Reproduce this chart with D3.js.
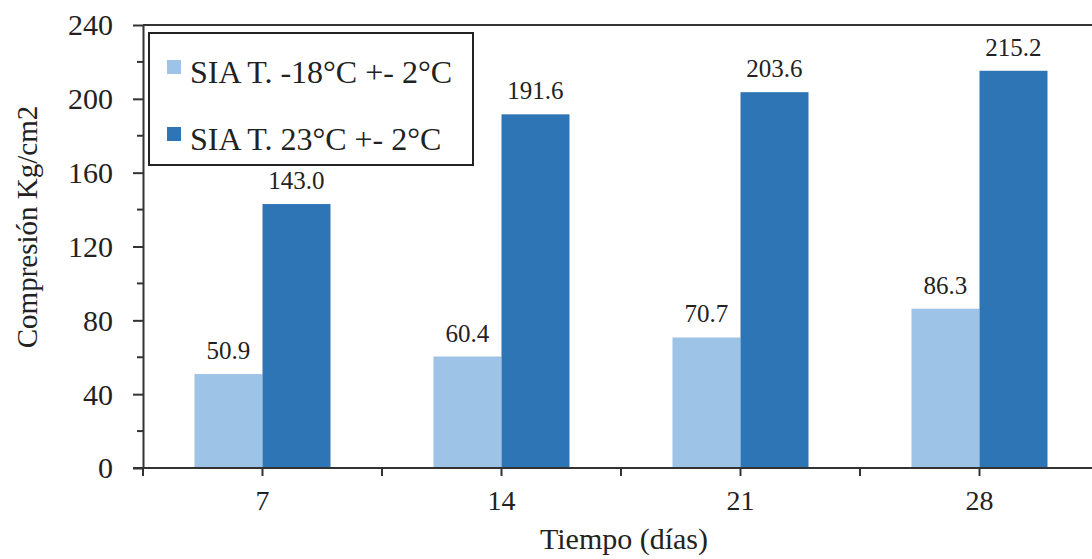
<!DOCTYPE html>
<html>
<head>
<meta charset="utf-8">
<script src="https://cdn.jsdelivr.net/npm/d3@7"></script>
<style>
  body { margin: 0; background: #fff; }
  svg text { font-family: 'Liberation Serif', Tinos, 'Times New Roman', Times, 'DejaVu Serif', serif; fill: #222; }
</style>
</head>
<body>
<div id="chart"></div>
<script>
// data
const days = ['7', '14', '21', '28'];
const seriesNames = ['SIA T. -18°C +- 2°C', 'SIA T. 23°C +- 2°C'];
const coldValues = [50.9, 60.4, 70.7, 86.3];
const warmValues = [143.0, 191.6, 203.6, 215.2];
const yTicks = [0, 40, 80, 120, 160, 200, 240];
const colors = ['#9dc3e6', '#2e75b6'];

const width = 1092;
const height = 559;
const margin = { top: 25, left: 143, bottom: 91, right: -7 };
const serif = "'Liberation Serif', Tinos, 'Times New Roman', Times, 'DejaVu Serif', serif";

const svg = d3.select('#chart')
  .append('svg')
  .attr('width', width)
  .attr('height', height)
  .attr('font-family', serif);

const rows = days.map((d, i) => ({ day: d, values: [coldValues[i], warmValues[i]] }));

// scales
const x0 = d3.scaleBand()
  .domain(days)
  .range([margin.left, width - margin.right])
  .paddingInner(0.431)
  .paddingOuter(0.2155);

const x1 = d3.scaleBand()
  .domain([0, 1])
  .range([0, x0.bandwidth()]);

const y = d3.scaleLinear()
  .domain([0, 240])
  .range([height - margin.bottom, margin.top]);

const axisColor = '#333';

// bars
const groups = svg.append('g')
  .selectAll('g')
  .data(rows)
  .enter()
  .append('g')
  .attr('transform', (d) => `translate(${x0(d.day)},0)`);

groups.selectAll('rect')
  .data((d) => d.values.map((v, k) => ({ v, k })))
  .enter()
  .append('rect')
  .attr('x', (d) => x1(d.k))
  .attr('y', (d) => y(d.v))
  .attr('width', x1.bandwidth())
  .attr('height', (d) => y(0) - y(d.v))
  .attr('fill', (d) => colors[d.k]);

// value labels
groups.selectAll('text')
  .data((d) => d.values.map((v, k) => ({ v, k })))
  .enter()
  .append('text')
  .attr('x', (d) => x1(d.k) + x1.bandwidth() / 2)
  .attr('y', (d) => y(d.v) - 15)
  .attr('text-anchor', 'middle')
  .style('font-family', serif)
  .style('font-size', '25px')
  .text((d) => d.v.toFixed(1));

// top frame line
svg.append('line')
  .attr('x1', margin.left).attr('x2', width)
  .attr('y1', y(240)).attr('y2', y(240))
  .attr('stroke', axisColor).attr('stroke-width', 2);

// y axis
const yAxis = svg.append('g')
  .attr('transform', `translate(${margin.left},0)`)
  .call(d3.axisLeft(y).tickValues(yTicks).tickSize(10).tickPadding(20).tickSizeOuter(0))
  .attr('font-family', serif);
yAxis.select('.domain').attr('stroke', axisColor).attr('stroke-width', 2);
yAxis.selectAll('.tick line').attr('stroke', axisColor).attr('stroke-width', 2);
yAxis.selectAll('.tick text').style('font-family', serif).style('font-size', '30px').attr('dy', '0.33em');

// y minor ticks
svg.append('g')
  .selectAll('line')
  .data(d3.range(20, 240, 40))
  .enter()
  .append('line')
  .attr('x1', margin.left - 6).attr('x2', margin.left)
  .attr('y1', (d) => y(d)).attr('y2', (d) => y(d))
  .attr('stroke', axisColor).attr('stroke-width', 2);

// x axis
const xAxis = svg.append('g')
  .attr('transform', `translate(0,${y(0)})`)
  .call(d3.axisBottom(x0).tickSize(8).tickPadding(14).tickSizeOuter(0))
  .attr('font-family', serif);
xAxis.select('.domain').remove();
xAxis.selectAll('.tick line').attr('stroke', axisColor).attr('stroke-width', 2);
xAxis.selectAll('.tick text').style('font-family', serif).style('font-size', '28px');

svg.append('line')
  .attr('x1', margin.left - 10).attr('x2', width)
  .attr('y1', y(0)).attr('y2', y(0))
  .attr('stroke', axisColor).attr('stroke-width', 2);

// category boundary ticks
svg.append('g')
  .selectAll('line')
  .data(days)
  .enter()
  .append('line')
  .attr('x1', (d) => x0(d) + x0.bandwidth() / 2 - x0.step() / 2)
  .attr('x2', (d) => x0(d) + x0.bandwidth() / 2 - x0.step() / 2)
  .attr('y1', y(0)).attr('y2', y(0) + 8)
  .attr('stroke', axisColor).attr('stroke-width', 2);

// axis titles
svg.append('text')
  .attr('x', 624)
  .attr('y', 549)
  .attr('text-anchor', 'middle')
  .style('font-family', serif)
  .style('font-size', '30px')
  .text('Tiempo (días)');

svg.append('text')
  .attr('transform', 'translate(37,227) rotate(-90)')
  .attr('text-anchor', 'middle')
  .style('font-family', serif)
  .style('font-size', '29px')
  .text('Compresión Kg/cm2');

// legend
const legend = svg.append('g').attr('transform', 'translate(149,33)');
legend.append('rect')
  .attr('width', 324).attr('height', 132)
  .attr('fill', '#fff')
  .attr('stroke', '#222').attr('stroke-width', 2);

const items = legend.selectAll('g.item')
  .data(seriesNames)
  .enter()
  .append('g')
  .attr('class', 'item')
  .attr('transform', (d, i) => `translate(18,${27 + i * 67})`);

items.append('rect')
  .attr('width', 14).attr('height', 14)
  .attr('fill', (d, i) => colors[i]);

items.append('text')
  .attr('x', 23)
  .attr('y', 23)
  .style('font-family', serif)
  .style('font-size', '32px')
  .text((d) => d);
</script>
</body>
</html>
